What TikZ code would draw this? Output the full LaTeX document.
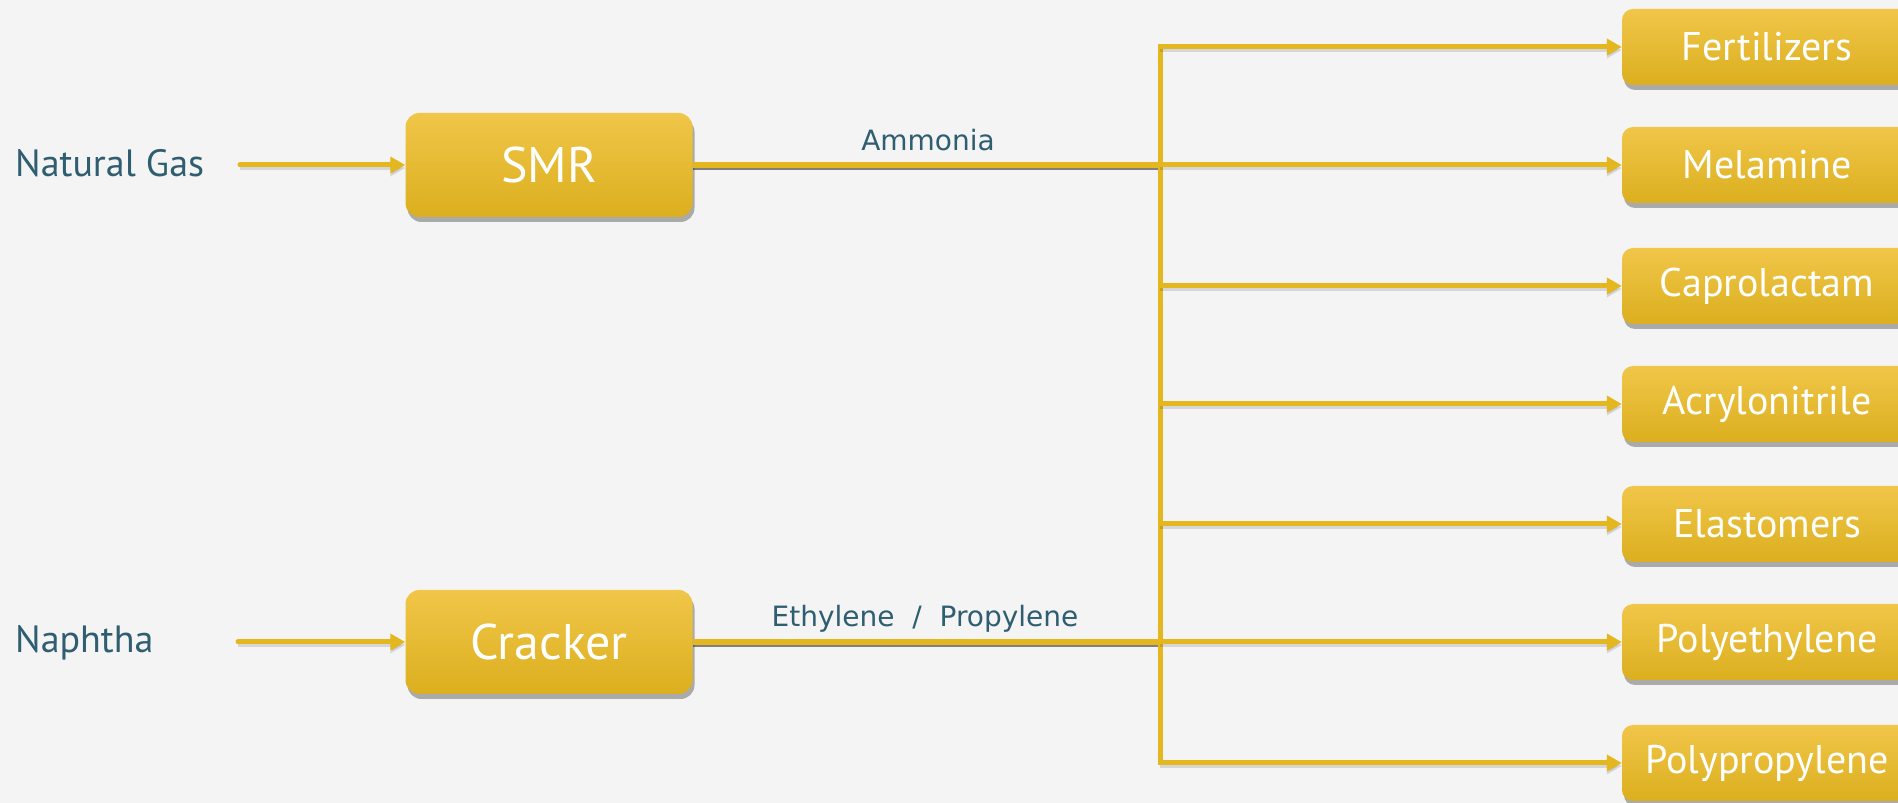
\documentclass[tikz,border=0pt]{standalone}
\usepackage{fontspec}
\setmainfont{PT Sans}
\newfontfamily\lblfont{DejaVu Sans}
\usetikzlibrary{shadows,arrows.meta}
\definecolor{bg}{HTML}{F4F4F4}
\definecolor{gold}{HTML}{E5B71E}
\definecolor{goldtop}{HTML}{F1C649}
\definecolor{goldbot}{HTML}{DBAF1E}
\definecolor{tealtext}{HTML}{2E5E70}
\tikzset{
  box/.style={rounded corners=14pt, top color=goldtop, bottom color=goldbot, draw=none,
    text=white, inner sep=0pt,
    drop shadow={shadow xshift=2pt, shadow yshift=-5pt, opacity=0.3, fill=black}},
  bigbox/.style={box, minimum width=287pt, minimum height=104pt, font=\fontsize{50}{50}\selectfont},
  prodbox/.style={box, rounded corners=11pt, minimum width=290pt, minimum height=76pt, font=\fontsize{40}{40}\selectfont},
  src/.style={text=tealtext, font=\fontsize{38}{38}\selectfont, anchor=west, inner sep=0pt},
  flowlbl/.style={text=tealtext, font=\lblfont\fontsize{28}{28}\selectfont, inner sep=0pt},
  flow/.style={draw=gold, line width=5pt, -{Triangle[length=15pt,width=16pt]},
    preaction={draw=black, opacity=0.12, line width=5pt, transform canvas={yshift=-3pt}}},
  trunk/.style={draw=gold, line width=6pt,
    preaction={draw=black!80, opacity=0.6, line width=5pt, transform canvas={yshift=-3pt}}},
  bus/.style={draw=gold, line width=5pt, line cap=rect},
}
\begin{document}
\begin{tikzpicture}[x=1pt,y=1pt]
\fill[bg] (0,0) rectangle (1898,803);
\useasboundingbox (0,0) rectangle (1898,803);
\clip (0,0) rectangle (1898,803);
% sources
\node[src] (ng) at (15,640) {Natural Gas};
\node[src] (na) at (15,160) {Naphtha};
% process boxes
\node[bigbox] (smr) at (549,638) {SMR};
\node[bigbox] (crk) at (549,161) {Cracker};
% products
\node[prodbox] (p1) at (1767,756) {Fertilizers};
\node[prodbox] (p2) at (1767,638) {Melamine};
\node[prodbox] (p3) at (1767,517) {Caprolactam};
\node[prodbox] (p4) at (1767,399) {Acrylonitrile};
\node[prodbox] (p5) at (1767,279) {Elastomers};
\node[prodbox] (p6) at (1767,161) {Polyethylene};
\node[prodbox] (p7) at (1767,40) {Polypropylene};
% bus coordinates
\coordinate (b1) at (1160,756);
\coordinate (b2) at (1160,638);
\coordinate (b3) at (1160,517);
\coordinate (b4) at (1160,399);
\coordinate (b5) at (1160,279);
\coordinate (b6) at (1160,161);
\coordinate (b7) at (1160,40);
\coordinate (ng1) at (240,638);
\coordinate (na1) at (238,161);
% input arrows
\draw[flow, line cap=round] (ng1) -- (smr.west);
\draw[flow, line cap=round] (na1) -- (crk.west);
% trunks
\draw[trunk] (smr.east) -- (b2);
\draw[trunk] (crk.east) -- (b6);
\node[flowlbl] (amm) at (928,663) {Ammonia};
\node[flowlbl] (eth) at (925,184) {Ethylene~~/~~Propylene};
% bus
\draw[bus] (b1) -- (b7);
% branches
\foreach \i in {1,...,7}{
  \draw[flow] (b\i) -- (p\i.west);
}
\end{tikzpicture}
\end{document}
